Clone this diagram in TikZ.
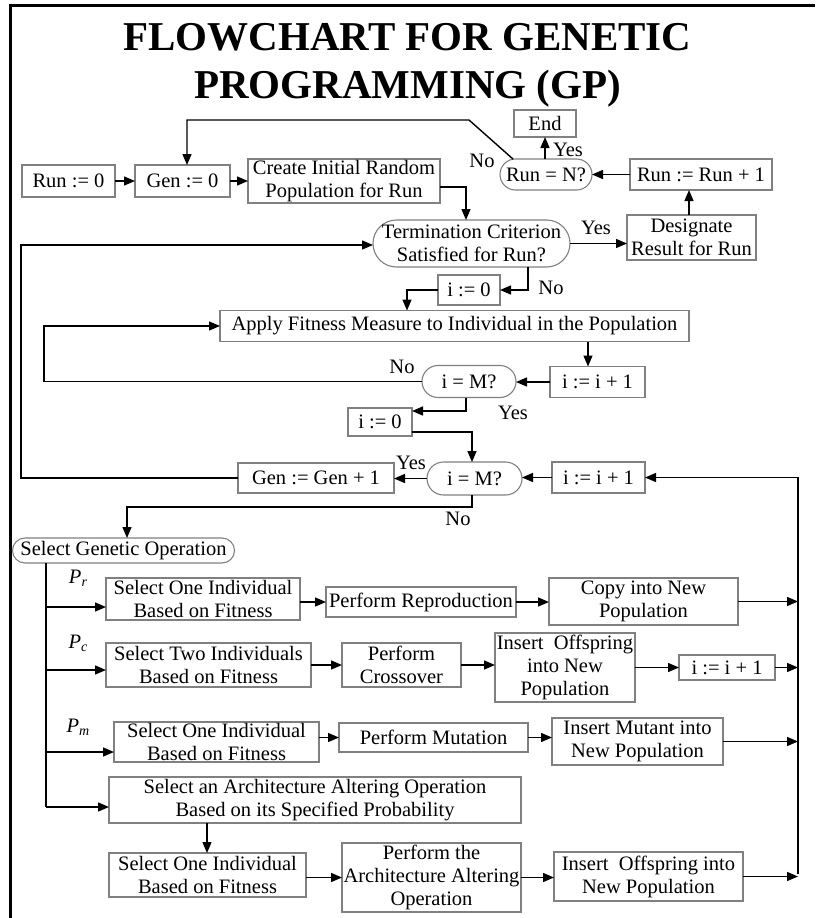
\documentclass[tikz,border=0pt]{standalone}
\usepackage{fontspec}
\setmainfont{Liberation Serif}
\usetikzlibrary{arrows.meta,shapes.misc,calc}

\definecolor{boxgray}{gray}{0.5}
\newcommand\flowtxt{\fontsize{20.5}{23}\selectfont}
\newcommand\probl[1]{\textit{P}\raisebox{-0.35ex}{\fontsize{14}{14}\selectfont\textit{#1}}}

\begin{document}
\begin{tikzpicture}[x=1pt,y=-1pt,
  every node/.style={inner sep=0pt,outer sep=0pt},
  box/.style 2 args={draw=boxgray,line width=1.1pt,align=center,font=\flowtxt,
    minimum width=#1,minimum height=#2},
  oval/.style 2 args={draw=boxgray,line width=1.1pt,rounded rectangle,align=center,
    font=\flowtxt,minimum width=#1,minimum height=#2},
  lbl/.style={font=\flowtxt},
  link/.style={line width=1.4pt,black},
  conn/.style={link,-{Triangle[length=11pt,width=9pt]}}
]
\useasboundingbox (0,0) rectangle (815,918);

% frame
\draw[line width=2.2pt] (10.5,918) -- (10.5,5.5) -- (815,5.5);

% title
\node[font=\fontsize{41}{48}\selectfont\bfseries,anchor=base] (title1) at (407.5,50) {FLOWCHART FOR GENETIC};
\node[font=\fontsize{41}{48}\selectfont\bfseries,anchor=base] (title2) at (407.5,98) {PROGRAMMING (GP)};

% run / generation initialisation
\node[box={93}{32}] (run0) at (68.5,181) {Run := 0};
\node[box={95}{32}] (gen0) at (182.5,181) {Gen := 0};
\node[box={192}{44}] (create) at (344,181) {Create Initial Random\\Population for Run};
\node[box={62}{27}] (end) at (545,123.5) {End};
\node[oval={92}{31}] (runN) at (546,174.5) {Run = N?};
\node[box={142}{31}] (runinc) at (701,174.5) {Run := Run + 1};
\node[box={129}{45}] (desig) at (691.5,237.5) {Designate\\Result for Run};
\node[oval={197}{47}] (term) at (471.5,243.5) {Termination Criterion\\Satisfied for Run?};

% fitness evaluation loop
\node[box={62}{30}] (i0a) at (469,290) {i := 0};
\node[box={469}{31}] (apply) at (454.5,326) {Apply Fitness Measure to Individual in the Population};
\node[box={95}{31}] (iinca) at (597.5,382) {i := i + 1};
\node[oval={94}{32}] (ima) at (469,381.5) {i = M?};
\node[box={64}{28}] (i0b) at (380,422) {i := 0};

% genetic operation loop
\node[oval={95}{33}] (imb) at (474.5,478.5) {i = M?};
\node[box={93}{31}] (iincb) at (598.5,477.5) {i := i + 1};
\node[box={156}{30}] (geninc) at (316,478) {Gen := Gen + 1};
\node[oval={222}{25}] (selgen) at (123.5,550.5) {Select Genetic Operation};

% reproduction
\node[box={194}{42}] (selr) at (203,599) {Select One Individual\\Based on Fitness};
\node[box={190}{30}] (repro) at (421,602) {Perform Reproduction};
\node[box={189}{47}] (copy) at (643.5,601.5) {Copy into New\\Population};

% crossover
\node[box={205}{44}] (selc) at (208.5,665) {Select Two Individuals\\Based on Fitness};
\node[box={119}{44}] (cross) at (401.5,665) {Perform\\Crossover};
\node[box={140}{69}] (insc) at (565,667.5) {Insert\ \ Offspring\\into New\\Population};
\node[box={96}{25}] (iincc) at (727,667.5) {i := i + 1};

% mutation
\node[box={205}{40}] (selm) at (216.5,742) {Select One Individual\\Based on Fitness};
\node[box={189}{29}] (mut) at (433.5,737.5) {Perform Mutation};
\node[box={171}{47}] (insm) at (637.5,741.5) {Insert Mutant into\\New Population};

% architecture-altering operations
\node[box={412}{46}] (arch) at (315,800) {Select an Architecture Altering Operation\\Based on its Specified Probability};
\node[box={197}{44}] (sela) at (207.5,875) {Select One Individual\\Based on Fitness};
\node[box={179}{69}] (perfa) at (431.5,877.5) {Perform the\\Architecture Altering\\Operation};
\node[box={189}{49}] (insa) at (648.5,876.5) {Insert\ \ Offspring into\\New Population};

% probability labels
\node[lbl] (pr) at (78,578) {\probl{r}};
\node[lbl] (pc) at (78,643) {\probl{c}};
\node[lbl] (pm) at (78,727) {\probl{m}};

% branch labels
\node[lbl] (noA) at (482,161) {No};
\node[lbl] (yesA) at (568,150) {Yes};
\node[lbl] (yesB) at (596,228) {Yes};
\node[lbl] (noB) at (551,288) {No};
\node[lbl] (noC) at (402,367) {No};
\node[lbl] (yesC) at (513,413) {Yes};
\node[lbl] (yesD) at (411,463) {Yes};
\node[lbl] (noD) at (458,519) {No};

% connector corners
\coordinate (tlA) at (469,120);
\coordinate (tlB) at (187,120);
\coordinate (cD) at (689,0);
\coordinate (cC) at (466,187);
\coordinate (cE) at (528,290);
\coordinate (cF) at (407,290);
\coordinate (cG) at (588,0);
\coordinate (cH) at (44,326);
\coordinate (cI) at (466,411);
\coordinate (cJ) at (472,432);
\coordinate (cK) at (21,245);
\coordinate (cL) at (472,507);
\coordinate (cM) at (127,507);
\coordinate (cN) at (207,0);
\coordinate (tTop) at (46,0);
\coordinate (bR) at (46,607);
\coordinate (bC) at (46,670);
\coordinate (bM) at (46,752);
\coordinate (bA) at (46,807);
\coordinate (rTop) at (798,477.5);
\coordinate (rBot) at (798,874);

% run loop
\draw[conn] (runN.155) -- (tlA) -- (tlB) -- (tlB |- gen0.north);
\draw[conn] (end.south |- runN.north) -- (end.south);
\draw[conn] (runinc.west) -- (runN.east);
\draw[conn] (cD |- desig.north) -- (cD |- runinc.south);
\draw[conn] (run0.east) -- (gen0.west);
\draw[conn] (gen0.east) -- (create.west);
\draw[conn] (create.east |- cC) -- (cC) -- (cC |- term.north);
\draw[conn] (term.east) -- (term.east -| desig.west);

% fitness loop
\draw[conn] (cE |- term.south) -- (cE) -- (i0a.east);
\draw[conn] (i0a.west) -- (cF) -- (cF |- apply.north);
\draw[conn] (cG |- apply.south) -- (cG |- iinca.north);
\draw[conn] (iinca.west) -- (iinca.west -| ima.east);
\draw[conn] (ima.west) -- (ima.west -| cH) -- (cH) -- (apply.west);
\draw[conn] (cI |- ima.south) -- (cI) -- (cI -| i0b.east);
\draw[conn] (i0b.east |- cJ) -- (cJ) -- (cJ |- imb.north);

% generation loop
\draw[conn] (iincb.west) -- (iincb.west -| imb.east);
\draw[conn] (imb.west) -- (imb.west -| geninc.east);
\draw[conn] (geninc.west) -- (geninc.west -| cK) -- (cK) -- (cK -| term.west);
\draw[conn] (cL |- imb.south) -- (cL) -- (cM) -- (cM |- selgen.north);

% operation branches
\draw[link] (tTop |- selgen.south) -- (bA);
\draw[conn] (bR) -- (bR -| selr.west);
\draw[conn] (bC) -- (bC -| selc.west);
\draw[conn] (bM) -- (bM -| selm.west);
\draw[conn] (bA) -- (bA -| arch.west);

\draw[conn] (repro.west -| selr.east) -- (repro.west);
\draw[conn] (repro.east) -- (repro.east -| copy.west);
\draw[conn] (cross.west -| selc.east) -- (cross.west);
\draw[conn] (cross.east) -- (cross.east -| insc.west);
\draw[conn] (insc.east) -- (insc.east -| iincc.west);
\draw[conn] (mut.west -| selm.east) -- (mut.west);
\draw[conn] (mut.east) -- (mut.east -| insm.west);
\draw[conn] (cN |- arch.south) -- (cN |- sela.north);
\draw[conn] (perfa.west -| sela.east) -- (perfa.west);
\draw[conn] (perfa.east) -- (perfa.east -| insa.west);

% return to the counter
\draw[conn] (copy.east) -- (copy.east -| rTop);
\draw[conn] (iincc.east) -- (iincc.east -| rTop);
\draw[conn] (insm.east) -- (insm.east -| rTop);
\draw[conn] (insa.east) -- (insa.east -| rTop);
\draw[conn] (rBot) -- (rTop) -- (iincb.east);
\end{tikzpicture}
\end{document}
